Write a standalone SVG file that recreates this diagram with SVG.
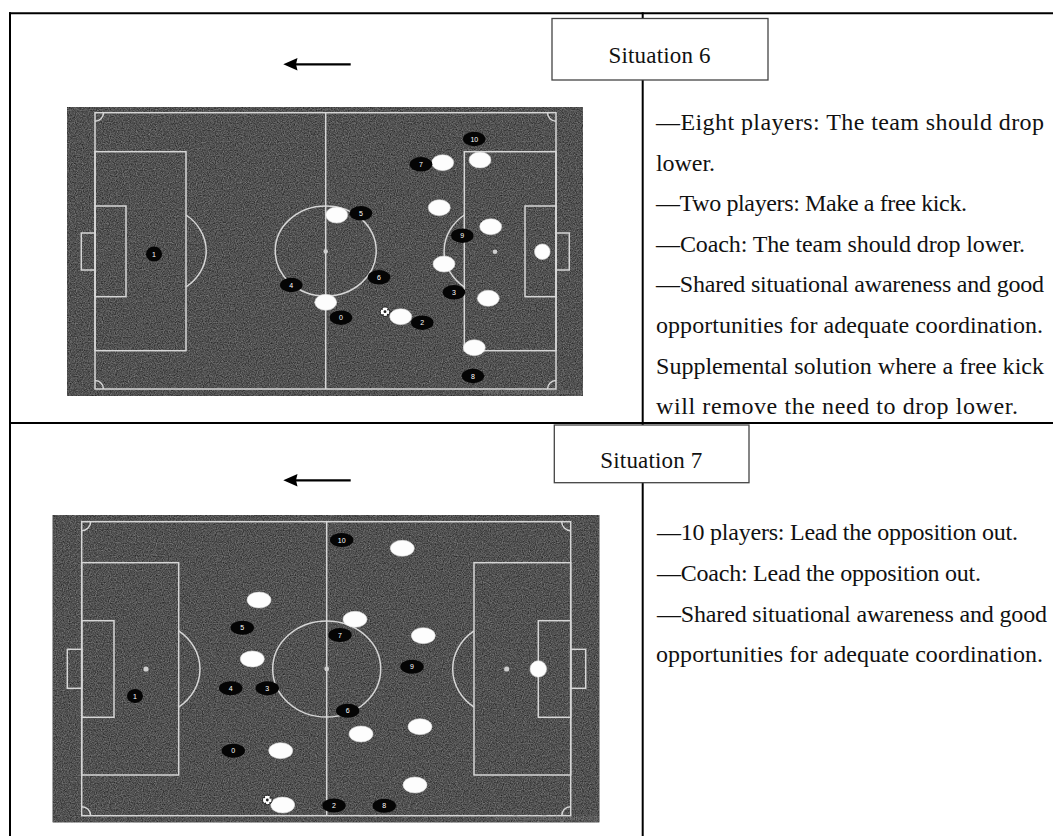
<svg xmlns="http://www.w3.org/2000/svg" width="1053" height="836" viewBox="0 0 1053 836">
<style>
.frame{stroke:#000;stroke-width:2;fill:none}
.lbl{fill:#fff;stroke:#444;stroke-width:1.3}
.body{font-family:"Liberation Serif",serif;font-size:24px;fill:#111}
.ttl{font-family:"Liberation Serif",serif;font-size:23px;fill:#111;text-anchor:middle}
.ln{fill:none;stroke:#d6d6d6;stroke-width:1.5}
.dot{fill:#cfcfcf}
.bp{fill:#050505}
.wp{fill:#fdfdfd;stroke:#d8d8d8;stroke-width:0.6}
.num{font-family:"Liberation Sans",sans-serif;font-size:7px;fill:#fff;text-anchor:middle}
.wm{font-family:"Liberation Sans",sans-serif;font-size:8px;fill:#8a8a8a;opacity:0.6}
.ball{fill:#fff;stroke:#222;stroke-width:1}
</style>
<defs>
<filter id="grain" x="0" y="0" width="100%" height="100%" color-interpolation-filters="sRGB">
<feTurbulence type="fractalNoise" baseFrequency="0.85" numOctaves="2" seed="4"/>
<feColorMatrix type="saturate" values="0"/>
<feComponentTransfer>
<feFuncR type="linear" slope="0.6" intercept="0.02"/>
<feFuncG type="linear" slope="0.6" intercept="0.02"/>
<feFuncB type="linear" slope="0.6" intercept="0.02"/>
<feFuncA type="linear" slope="0" intercept="1"/>
</feComponentTransfer>
<feComposite in2="SourceGraphic" operator="in"/>
</filter>
</defs>
<rect width="1053" height="836" fill="#fff"/>

<g id="table">
<line class="frame" x1="9" y1="13.3" x2="1053" y2="13.3"/>
<line class="frame" x1="10" y1="12.3" x2="10" y2="836"/>
<line class="frame" x1="9" y1="423" x2="1053" y2="423"/>
<line class="frame" x1="642.7" y1="12.3" x2="642.7" y2="836"/>
</g>

<g id="label-situation-6">
<rect class="lbl" x="552" y="18.5" width="216" height="61.5"/>
<text class="ttl" x="659.5" y="62.5" textLength="102">Situation 6</text>
</g>
<g id="label-situation-7">
<rect class="lbl" x="554.3" y="425" width="194.7" height="57.7"/>
<text class="ttl" x="651.3" y="468.3" textLength="102">Situation 7</text>
</g>

<g id="connectors">
<g id="arrow-6">
<line x1="293" y1="64.3" x2="350.7" y2="64.3" stroke="#000" stroke-width="2.2"/>
<polygon points="283.3,64.3 297.5,58 296,64.3 297.5,70.6" fill="#000"/>
</g>
<g id="arrow-7">
<line x1="293" y1="480.3" x2="350.7" y2="480.3" stroke="#000" stroke-width="2.2"/>
<polygon points="283.3,480.3 297.5,474 296,480.3 297.5,486.6" fill="#000"/>
</g>
</g>

<g id="pitch-6">
<rect x="67" y="107" width="516" height="289" fill="#4f4f4f"/>
<rect x="67" y="107" width="516" height="289" filter="url(#grain)" fill="#000"/>
<rect class="ln" x="95" y="112.7" width="461" height="276.3"/>
<line class="ln" x1="325.7" y1="112.7" x2="325.7" y2="389"/>
<ellipse class="ln" cx="325.7" cy="251" rx="50.5" ry="45"/>
<circle class="dot" cx="325.7" cy="251.5" r="2.3"/>
<rect class="ln" x="95" y="151.7" width="91" height="199"/>
<rect class="ln" x="95" y="206" width="31" height="90.7"/>
<rect class="ln" x="81.3" y="233" width="13.7" height="37"/>
<path class="ln" d="M186,215 A50.5,45 0 0 1 186,287"/>
<rect class="ln" x="464.3" y="151.7" width="91.7" height="199"/>
<rect class="ln" x="525" y="206" width="31" height="90.7"/>
<rect class="ln" x="556" y="233" width="13.3" height="37"/>
<path class="ln" d="M464.3,215 A50.5,45 0 0 0 464.3,287"/>
<circle class="dot" cx="495" cy="251.7" r="2.3"/>
<path class="ln" d="M95,121.2 A8.5,8.5 0 0 0 103.5,112.7"/>
<path class="ln" d="M95,380.5 A8.5,8.5 0 0 1 103.5,389"/>
<path class="ln" d="M556,121.2 A8.5,8.5 0 0 1 547.5,112.7"/>
<path class="ln" d="M556,380.5 A8.5,8.5 0 0 0 547.5,389"/>
<text class="wm" x="482" y="394" textLength="100">www.DesktopBackground.org</text>

<ellipse class="wp" cx="336.7" cy="215" rx="11" ry="8"/>
<ellipse class="wp" cx="325.7" cy="302.3" rx="11" ry="8"/>
<ellipse class="wp" cx="442.7" cy="162.7" rx="11" ry="8"/>
<ellipse class="wp" cx="480" cy="160" rx="11" ry="8"/>
<ellipse class="wp" cx="439.3" cy="207.7" rx="11" ry="8"/>
<ellipse class="wp" cx="490.7" cy="226.7" rx="11" ry="8"/>
<ellipse class="wp" cx="444" cy="264" rx="11" ry="8"/>
<ellipse class="wp" cx="488.3" cy="298.3" rx="11" ry="8"/>
<ellipse class="wp" cx="400.7" cy="316.7" rx="11" ry="8"/>
<ellipse class="wp" cx="474.3" cy="347.7" rx="11" ry="8"/>
<circle class="wp" cx="542.3" cy="251.7" r="7.8"/>

<ellipse class="bp" cx="154" cy="254" rx="8" ry="7.5"/><text class="num" x="154" y="256.5">1</text>
<ellipse class="bp" cx="291.3" cy="285" rx="11.3" ry="7.2"/><text class="num" x="291.3" y="287.5">4</text>
<ellipse class="bp" cx="361" cy="213.3" rx="11.3" ry="7.2"/><text class="num" x="361" y="215.8">5</text>
<ellipse class="bp" cx="341" cy="317.7" rx="11.3" ry="7.2"/><text class="num" x="341" y="320.2">0</text>
<ellipse class="bp" cx="474.3" cy="139" rx="11.3" ry="7.2"/><text class="num" x="474.3" y="141.5">10</text>
<ellipse class="bp" cx="421" cy="164.3" rx="11.3" ry="7.2"/><text class="num" x="421" y="166.8">7</text>
<ellipse class="bp" cx="462.3" cy="235.7" rx="11.3" ry="7.2"/><text class="num" x="462.3" y="238.2">9</text>
<ellipse class="bp" cx="379" cy="277.3" rx="11.3" ry="7.2"/><text class="num" x="379" y="279.8">6</text>
<ellipse class="bp" cx="454" cy="292.3" rx="11.3" ry="7.2"/><text class="num" x="454" y="294.8">3</text>
<ellipse class="bp" cx="422.3" cy="322.7" rx="11.3" ry="7.2"/><text class="num" x="422.3" y="325.2">2</text>
<ellipse class="bp" cx="473" cy="376" rx="11.3" ry="7.2"/><text class="num" x="473" y="378.5">8</text>

<g id="ball-6">
<circle class="ball" cx="385" cy="311.7" r="4.8"/>
<circle cx="385" cy="311.7" r="1.4" fill="#222"/>
<circle cx="382" cy="309" r="0.9" fill="#222"/>
<circle cx="388" cy="309.5" r="0.9" fill="#222"/>
<circle cx="383" cy="315" r="0.9" fill="#222"/>
<circle cx="387.8" cy="314.6" r="0.9" fill="#222"/>
</g>
</g>

<g id="pitch-7">
<rect x="52.7" y="515" width="546.6" height="307.3" fill="#4f4f4f"/>
<rect x="52.7" y="515" width="546.6" height="307.3" filter="url(#grain)" fill="#000"/>
<rect class="ln" x="81.7" y="521.7" width="489" height="294"/>
<line class="ln" x1="326.7" y1="521.7" x2="326.7" y2="815.7"/>
<ellipse class="ln" cx="326.7" cy="669" rx="54" ry="48"/>
<circle class="dot" cx="326.7" cy="669" r="2.4"/>
<rect class="ln" x="81.7" y="562.7" width="97" height="212.3"/>
<rect class="ln" x="81.7" y="620.7" width="32.3" height="96.6"/>
<rect class="ln" x="67.3" y="649.3" width="14.4" height="39"/>
<circle class="dot" cx="146" cy="669" r="2.6"/>
<path class="ln" d="M178.7,630.8 A54,48 0 0 1 178.7,707.2"/>
<rect class="ln" x="474" y="562.7" width="96.7" height="212.3"/>
<rect class="ln" x="538.3" y="620.7" width="32.4" height="96.6"/>
<rect class="ln" x="570.7" y="649.3" width="15" height="39"/>
<circle class="dot" cx="506.7" cy="669" r="2.6"/>
<path class="ln" d="M474,630.8 A54,48 0 0 0 474,707.2"/>
<path class="ln" d="M81.7,530.7 A9,9 0 0 0 90.7,521.7"/>
<path class="ln" d="M81.7,806.7 A9,9 0 0 1 90.7,815.7"/>
<path class="ln" d="M570.7,530.7 A9,9 0 0 1 561.7,521.7"/>
<path class="ln" d="M570.7,806.7 A9,9 0 0 0 561.7,815.7"/>
<text class="wm" x="494" y="820" textLength="104">www.DesktopBackground.org</text>

<ellipse class="wp" cx="402.3" cy="548.3" rx="12" ry="8"/>
<ellipse class="wp" cx="259" cy="600" rx="12" ry="8"/>
<ellipse class="wp" cx="355" cy="619.3" rx="12" ry="8"/>
<ellipse class="wp" cx="423.3" cy="635.7" rx="12" ry="8"/>
<ellipse class="wp" cx="252.3" cy="659" rx="12" ry="8"/>
<ellipse class="wp" cx="361" cy="734" rx="12" ry="8"/>
<ellipse class="wp" cx="420" cy="726.7" rx="12" ry="8"/>
<ellipse class="wp" cx="280.7" cy="750.7" rx="12" ry="8"/>
<ellipse class="wp" cx="415" cy="785" rx="12" ry="8"/>
<ellipse class="wp" cx="282.7" cy="805" rx="12" ry="8"/>
<circle class="wp" cx="538.3" cy="669" r="8.3"/>

<ellipse class="bp" cx="341.7" cy="540" rx="11.7" ry="7"/><text class="num" x="341.7" y="542.5">10</text>
<ellipse class="bp" cx="242.3" cy="627.7" rx="11.7" ry="7"/><text class="num" x="242.3" y="630.2">5</text>
<ellipse class="bp" cx="340" cy="635" rx="11.7" ry="7"/><text class="num" x="340" y="637.5">7</text>
<ellipse class="bp" cx="412" cy="666.7" rx="11.7" ry="7"/><text class="num" x="412" y="669.2">9</text>
<ellipse class="bp" cx="230.7" cy="688.3" rx="11.7" ry="7"/><text class="num" x="230.7" y="690.8">4</text>
<ellipse class="bp" cx="267.3" cy="688.3" rx="11.7" ry="7"/><text class="num" x="267.3" y="690.8">3</text>
<ellipse class="bp" cx="135" cy="696" rx="8" ry="7"/><text class="num" x="135" y="698.5">1</text>
<ellipse class="bp" cx="347.7" cy="710.7" rx="11.7" ry="7"/><text class="num" x="347.7" y="713.2">6</text>
<ellipse class="bp" cx="233.3" cy="750.7" rx="11.7" ry="7"/><text class="num" x="233.3" y="753.2">0</text>
<ellipse class="bp" cx="334" cy="805.5" rx="11.7" ry="7"/><text class="num" x="334" y="808">2</text>
<ellipse class="bp" cx="384.3" cy="805.7" rx="11.7" ry="7"/><text class="num" x="384.3" y="808.2">8</text>

<g id="ball-7">
<circle class="ball" cx="267.3" cy="800" r="4.8"/>
<circle cx="267.3" cy="800" r="1.4" fill="#222"/>
<circle cx="264.3" cy="797.3" r="0.9" fill="#222"/>
<circle cx="270.3" cy="797.8" r="0.9" fill="#222"/>
<circle cx="265.3" cy="803.3" r="0.9" fill="#222"/>
<circle cx="270.1" cy="802.9" r="0.9" fill="#222"/>
</g>
</g>

<g id="text-situation-6" class="body">
<text x="656" y="130" textLength="388" lengthAdjust="spacing">—Eight players: The team should drop</text>
<text x="656" y="170.6" textLength="59" lengthAdjust="spacing">lower.</text>
<text x="656" y="211.2" textLength="311" lengthAdjust="spacing">—Two players: Make a free kick.</text>
<text x="656" y="251.8" textLength="369" lengthAdjust="spacing">—Coach: The team should drop lower.</text>
<text x="656" y="292.4" textLength="388" lengthAdjust="spacing">—Shared situational awareness and good</text>
<text x="656" y="333" textLength="387" lengthAdjust="spacing">opportunities for adequate coordination.</text>
<text x="656" y="373.6" textLength="388" lengthAdjust="spacing">Supplemental solution where a free kick</text>
<text x="656" y="414.2" textLength="362" lengthAdjust="spacing">will remove the need to drop lower.</text>
</g>

<g id="text-situation-7" class="body">
<text x="657" y="540" textLength="361" lengthAdjust="spacing">—10 players: Lead the opposition out.</text>
<text x="657" y="580.8" textLength="324" lengthAdjust="spacing">—Coach: Lead the opposition out.</text>
<text x="657" y="621.5" textLength="390" lengthAdjust="spacing">—Shared situational awareness and good</text>
<text x="656" y="662" textLength="387" lengthAdjust="spacing">opportunities for adequate coordination.</text>
</g>
</svg>
